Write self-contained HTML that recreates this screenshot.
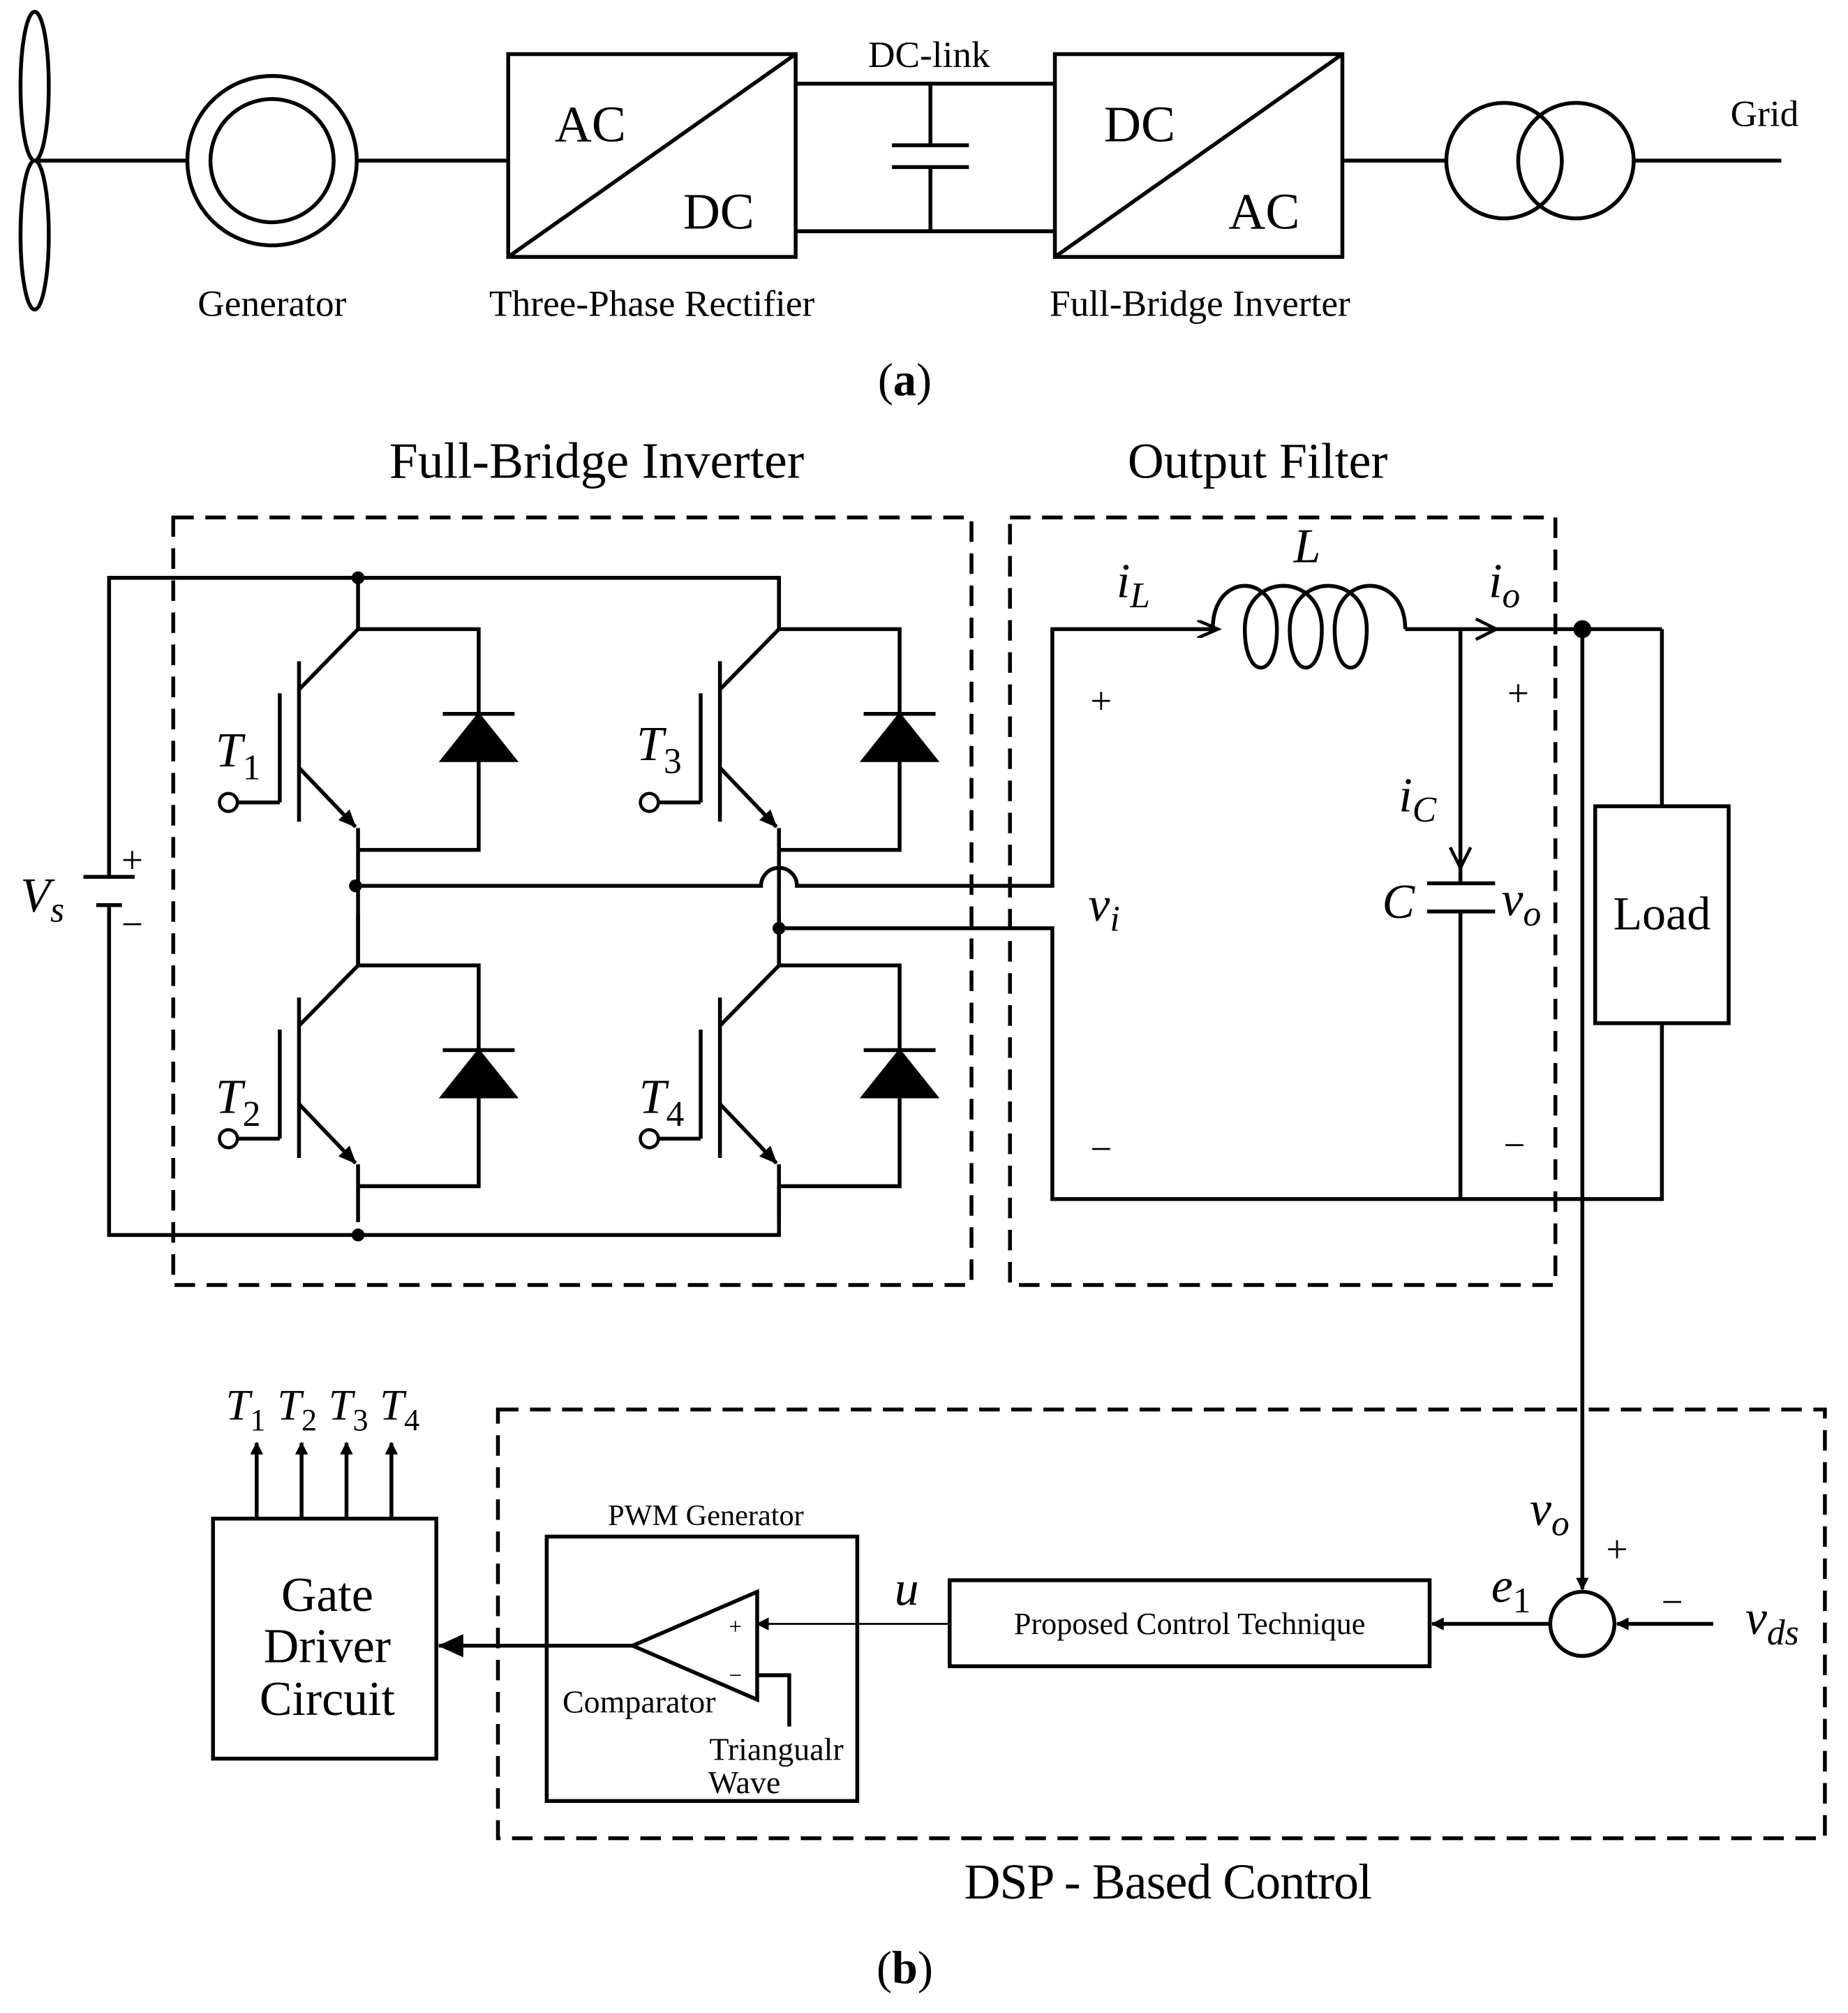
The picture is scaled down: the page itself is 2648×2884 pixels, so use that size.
<!DOCTYPE html>
<html><head><meta charset="utf-8"><style>
html,body{margin:0;padding:0;background:#fff;}
svg{display:block;}
text{font-family:"Liberation Serif",serif;fill:#000;}
</style></head><body>
<svg width="2648" height="2884" viewBox="0 0 1440 1568" xmlns="http://www.w3.org/2000/svg">
<defs>
<marker id="ah" markerWidth="10" markerHeight="10" refX="9" refY="5" orient="auto" markerUnits="userSpaceOnUse"><path d="M0,0 L10,5 L0,10 Z" fill="#000"/></marker>
<marker id="ae" markerWidth="14" markerHeight="12" refX="13" refY="6" orient="auto" markerUnits="userSpaceOnUse"><path d="M0,0 L14,6 L0,12 Z" fill="#000"/></marker>
<marker id="ahb" markerWidth="20" markerHeight="18" refX="19" refY="9" orient="auto" markerUnits="userSpaceOnUse"><path d="M0,0 L20,9 L0,18 Z" fill="#000"/></marker>
<marker id="av" markerWidth="20" markerHeight="14" refX="2" refY="7" orient="auto" markerUnits="userSpaceOnUse"><path d="M0,0 L16,7 L0,14" fill="none" stroke="#000" stroke-width="2.5"/></marker>
</defs>
<g fill="none" stroke="#000" stroke-width="3">
<ellipse cx="27" cy="67" rx="11" ry="58"/>
<ellipse cx="27" cy="183" rx="11" ry="58"/>
<line x1="27" y1="125" x2="146" y2="125"/>
<circle cx="212" cy="125" r="66"/>
<circle cx="212" cy="125" r="48"/>
<line x1="278" y1="125" x2="396" y2="125"/>
<rect x="396" y="42" width="224" height="158"/>
<line x1="396" y1="200" x2="620" y2="42"/>
<line x1="620" y1="65" x2="822" y2="65"/>
<line x1="620" y1="180" x2="822" y2="180"/>
<line x1="725" y1="65" x2="725" y2="113"/>
<line x1="695" y1="113" x2="755" y2="113"/>
<line x1="695" y1="130" x2="755" y2="130"/>
<line x1="725" y1="130" x2="725" y2="180"/>
<rect x="822" y="42" width="224" height="158"/>
<line x1="822" y1="200" x2="1046" y2="42"/>
<line x1="1046" y1="125" x2="1128" y2="125"/>
<circle cx="1172" cy="125" r="45"/>
<circle cx="1228" cy="125" r="45"/>
<line x1="1272" y1="125" x2="1388" y2="125"/>
</g>
<g font-size="40">
<text x="460" y="110" text-anchor="middle">AC</text>
<text x="560" y="178" text-anchor="middle">DC</text>
<text x="888" y="110" text-anchor="middle">DC</text>
<text x="985" y="178" text-anchor="middle">AC</text>
</g>
<g font-size="29" text-anchor="middle">
<text x="724" y="52">DC-link</text>
<text x="1375" y="98">Grid</text>
<text x="212" y="246">Generator</text>
<text x="508" y="246">Three-Phase Rectifier</text>
<text x="935" y="246">Full-Bridge Inverter</text>
</g>
<text x="705" y="308" font-size="36" text-anchor="middle">(<tspan font-weight="bold">a</tspan>)</text>

<text x="465" y="372" font-size="40" text-anchor="middle">Full-Bridge Inverter</text>
<text x="980" y="372" font-size="39" text-anchor="middle">Output Filter</text>
<g fill="none" stroke="#000" stroke-width="3" stroke-dasharray="16,9">
<rect x="135" y="403" width="622" height="598"/>
<rect x="787" y="403" width="425" height="598"/>
<rect x="388" y="1098" width="1034" height="334"/>
</g>
<g fill="none" stroke="#000" stroke-width="3">
<polyline points="279,450 85,450 85,683"/>
<polyline points="85,705 85,962 607,962 607,924"/>
<line x1="65" y1="683" x2="105" y2="683"/>
<line x1="75" y1="705" x2="95" y2="705"/>
<polyline points="279,450 607,450 607,490"/>
</g>
<g id="sw" fill="none" stroke="#000" stroke-width="3">
<line x1="279" y1="450" x2="279" y2="490"/>
<line x1="279" y1="490" x2="233" y2="537"/>
<line x1="233" y1="515" x2="233" y2="640"/>
<line x1="218" y1="540" x2="218" y2="625"/>
<line x1="185" y1="625" x2="218" y2="625"/>
<circle cx="178" cy="625" r="7" stroke-width="2.5"/>
<line x1="233" y1="598" x2="277" y2="644" marker-end="url(#ae)"/>
<line x1="279" y1="645" x2="279" y2="690"/>
<polyline points="279,490 373,490 373,662 279,662"/>
<path d="M345,592 L401,592 L373,557 Z" fill="#000"/>
<line x1="345" y1="556" x2="401" y2="556"/>
</g>
<use href="#sw" transform="translate(0,262)"/>
<use href="#sw" transform="translate(328,0)"/>
<use href="#sw" transform="translate(328,262)"/>
<g fill="none" stroke="#000" stroke-width="3">
<line x1="279" y1="690" x2="279" y2="752"/>
<line x1="607" y1="690" x2="607" y2="752"/>
<path d="M279,690 L593,690 A14,14 0 0 1 621,690 L820,690 L820,490 L935,490" marker-end="url(#av)"/>
<path d="M935,490 L945,490 C945,445 995,445 995,490 C995,530 970,530 970,490 C970,445 1030,445 1030,490 C1030,530 1005,530 1005,490 C1005,445 1065,445 1065,490 C1065,530 1040,530 1040,490 C1040,445 1095,445 1095,490"/>
<line x1="1095" y1="490" x2="1295" y2="490"/>
<path d="M1150,482 L1166,490 L1150,498" stroke-width="2.5"/>
<polyline points="1295,490 1295,628"/>
<rect x="1243" y="628" width="104" height="169"/>
<polyline points="1295,797 1295,934 820,934 820,723 607,723"/>
<line x1="1138" y1="490" x2="1138" y2="688"/>
<path d="M1130,660 L1138,676 L1146,660" stroke-width="2.5"/>
<line x1="1112" y1="688" x2="1165" y2="688"/>
<line x1="1112" y1="710" x2="1165" y2="710"/>
<line x1="1138" y1="710" x2="1138" y2="934"/>
<line x1="1233" y1="490" x2="1233" y2="1238" marker-end="url(#ah)"/>
<circle cx="1233" cy="1265" r="25"/>
<line x1="1335" y1="1265" x2="1260" y2="1265" marker-end="url(#ah)"/>
<line x1="1208" y1="1265" x2="1116" y2="1265" marker-end="url(#ah)"/>
<rect x="740" y="1231" width="374" height="67"/>
<line x1="740" y1="1265" x2="590" y2="1265" stroke-width="1.5" marker-end="url(#ah)"/>
<rect x="426" y="1197" width="242" height="206"/>
<path d="M590,1240 L590,1324 L493,1282 Z"/>
<polyline points="590,1305 615,1305 615,1345"/>
<line x1="493" y1="1282" x2="342" y2="1282" marker-end="url(#ahb)"/>
<rect x="166" y="1183" width="174" height="187"/>
<line x1="200" y1="1183" x2="200" y2="1124" marker-end="url(#ah)"/>
<line x1="235" y1="1183" x2="235" y2="1124" marker-end="url(#ah)"/>
<line x1="270" y1="1183" x2="270" y2="1124" marker-end="url(#ah)"/>
<line x1="305" y1="1183" x2="305" y2="1124" marker-end="url(#ah)"/>
</g>
<g fill="#000">
<circle cx="279" cy="450" r="5"/><circle cx="279" cy="962" r="5"/>
<circle cx="277" cy="690" r="5"/><circle cx="607" cy="723" r="5"/>
<circle cx="1233" cy="490" r="7"/>
</g>
<g font-size="38" font-style="italic">
<text x="168" y="597">T<tspan font-size="28" font-style="normal" dy="10">1</tspan></text>
<text x="168" y="867">T<tspan font-size="28" font-style="normal" dy="10">2</tspan></text>
<text x="496" y="592">T<tspan font-size="28" font-style="normal" dy="10">3</tspan></text>
<text x="498" y="867">T<tspan font-size="28" font-style="normal" dy="10">4</tspan></text>
<text x="16" y="710">V<tspan font-size="28" dy="8">s</tspan></text>
<text x="870" y="465">i<tspan font-size="28" dy="8">L</tspan></text>
<text x="1008" y="438">L</text>
<text x="1160" y="465">i<tspan font-size="28" dy="8">o</tspan></text>
<text x="1090" y="632">i<tspan font-size="28" dy="8">C</tspan></text>
<text x="1077" y="715">C</text>
<text x="1170" y="713">v<tspan font-size="28" dy="8">o</tspan></text>
<text x="848" y="717">v<tspan font-size="28" dy="8">i</tspan></text>
<text x="1192" y="1188">v<tspan font-size="28" dy="8">o</tspan></text>
<text x="1360" y="1273">v<tspan font-size="28" dy="8">ds</tspan></text>
<text x="1162" y="1248">e<tspan font-size="28" font-style="normal" dy="8">1</tspan></text>
<text x="697" y="1250">u</text>
<g font-size="34">
<text x="176" y="1106">T<tspan font-size="24" font-style="normal" dy="8">1</tspan></text>
<text x="216" y="1106">T<tspan font-size="24" font-style="normal" dy="8">2</tspan></text>
<text x="256" y="1106">T<tspan font-size="24" font-style="normal" dy="8">3</tspan></text>
<text x="296" y="1106">T<tspan font-size="24" font-style="normal" dy="8">4</tspan></text>
</g>
</g>
<g font-size="30" text-anchor="middle">
<text x="103" y="680">+</text>
<text x="103" y="730">−</text>
<text x="858" y="556">+</text>
<text x="1183" y="550">+</text>
<text x="858" y="905">−</text>
<text x="1180" y="902">−</text>
<text x="1260" y="1217">+</text>
<text x="1303" y="1258">−</text>
</g>
<text x="1295" y="724" font-size="37" text-anchor="middle">Load</text>
<text x="927" y="1273" font-size="24" text-anchor="middle">Proposed Control Technique</text>
<text x="550" y="1188" font-size="23" text-anchor="middle">PWM Generator</text>
<text x="573" y="1273" font-size="18" text-anchor="middle">+</text>
<text x="573" y="1311" font-size="18" text-anchor="middle">−</text>
<text x="498" y="1334" font-size="25" text-anchor="middle">Comparator</text>
<text x="605" y="1371" font-size="25" text-anchor="middle">Triangualr</text>
<text x="580" y="1397" font-size="25" text-anchor="middle">Wave</text>
<g font-size="38" text-anchor="middle">
<text x="255" y="1255">Gate</text>
<text x="255" y="1295">Driver</text>
<text x="255" y="1336">Circuit</text>
</g>
<text x="910" y="1479" font-size="39" text-anchor="middle" letter-spacing="-0.5">DSP - Based Control</text>
<text x="705" y="1545" font-size="36" text-anchor="middle">(<tspan font-weight="bold">b</tspan>)</text>
</svg>
</body></html>
